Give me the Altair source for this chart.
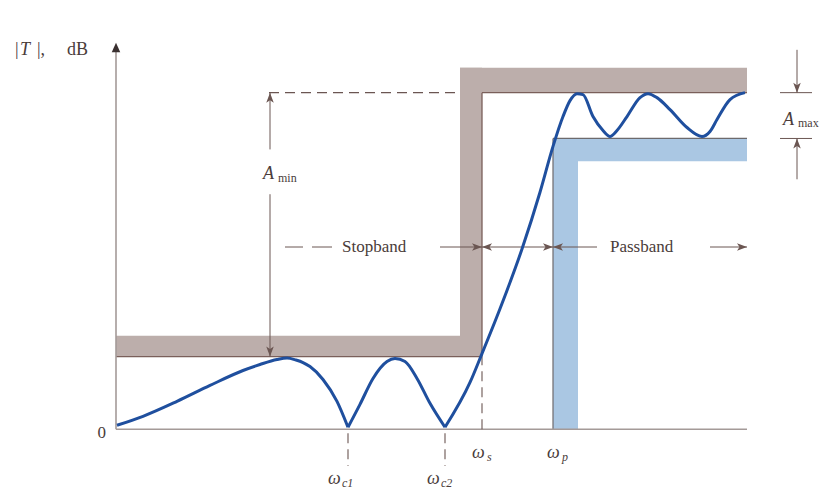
import altair as alt
import pandas as pd

# ---- response curve (omega in plot units, gain in dB units) ----
# three pieces, split at the transmission zeros so the notches stay sharp
omega = [0.1, 2.7, 6.1, 9.4, 12.7, 14.4, 16.1, 17.1, 18.0, 18.7, 19.4, 20.7, 22.1, 23.2,
         23.2, 24.4, 25.7, 27.1, 27.9, 28.9, 30.1, 31.4, 32.9,
         32.9, 35.4, 36.6, 38.4, 40.6, 42.4, 43.7, 44.7, 45.4, 46.1, 46.7, 47.7, 48.7,
         49.4, 50.1, 51.1, 52.4, 53.2, 54.1, 55.4, 57.1, 58.6, 59.4, 60.1, 61.4, 62.9]
gain_db = [0.4, 1.3, 2.8, 4.4, 5.9, 6.5, 7.0, 7.15, 6.95, 6.7, 6.3, 5.0, 2.8, 0.2,
           0.2, 2.5, 5.1, 6.8, 7.1, 6.8, 5.1, 2.6, 0.2,
           0.2, 4.7, 7.6, 12.1, 18.1, 23.8, 28.4, 31.4, 33.0, 33.7, 33.6, 31.4, 30.0,
           29.4, 30.0, 31.4, 33.3, 33.7, 33.3, 32.1, 30.3, 29.4, 29.9, 31.1, 33.1, 33.8]
piece = [1] * 14 + [2] * 9 + [3] * 26

# ---- specification values ----
stop_edge = 36.6     # omega_s
pass_edge = 43.7     # omega_p
omega_c1 = 23.2
omega_c2 = 32.9
omega_end = 63.1
stop_level = 7.3     # stopband ceiling
pass_max = 33.8
pass_min = 29.2
row = 18.3           # level of the Stopband / Passband captions

FONT = "Liberation Serif, Times New Roman, DejaVu Serif, serif"
TXT = "#4a3c3a"
ANN = "#6b5652"

X = alt.Scale(domain=[-10.8, 71.0], nice=False, zero=False)
Y = alt.Scale(domain=[-5.8, 42.3], nice=False, zero=False)


def seg_chart(rows, color, width, dash=None):
    df = pd.DataFrame(rows, columns=["x", "x2", "y", "y2"])
    kw = dict(color=color, strokeWidth=width)
    if dash:
        kw["strokeDash"] = dash
    return alt.Chart(df).mark_rule(**kw).encode(
        x=alt.X("x:Q", scale=X, axis=None), x2="x2:Q",
        y=alt.Y("y:Q", scale=Y, axis=None), y2="y2:Q")


# shaded specification bands
bands = pd.DataFrame([
    dict(x=0, x2=stop_edge, y=stop_level, y2=stop_level + 2.1, kind="stop"),
    dict(x=stop_edge - 2.2, x2=stop_edge, y=stop_level, y2=pass_max + 2.5, kind="stop"),
    dict(x=stop_edge - 2.2, x2=omega_end, y=pass_max, y2=pass_max + 2.5, kind="stop"),
    dict(x=pass_edge, x2=omega_end, y=pass_min - 2.3, y2=pass_min, kind="pass"),
    dict(x=pass_edge, x2=pass_edge + 2.5, y=0, y2=pass_min, kind="pass"),
])
band_layer = alt.Chart(bands).mark_rect(strokeWidth=0).encode(
    x=alt.X("x:Q", scale=X, axis=None), x2="x2:Q",
    y=alt.Y("y:Q", scale=Y, axis=None), y2="y2:Q",
    color=alt.Color("kind:N", scale=alt.Scale(domain=["stop", "pass"],
                                              range=["#bcaeab", "#aac7e3"]), legend=None))

stop_edges = seg_chart([(0, stop_edge, stop_level, stop_level),
                        (stop_edge, stop_edge, stop_level, pass_max),
                        (stop_edge, omega_end, pass_max, pass_max)], "#7a5f5a", 1.3)
pass_edges = seg_chart([(pass_edge, omega_end, pass_min, pass_min),
                        (pass_edge, pass_edge, 0, pass_min)], "#6d6a6c", 1.2)

axes = seg_chart([(0, 0, 0, 38.2), (0, omega_end, 0, 0)], "#a49a98", 1.6)

dashed = seg_chart([(15.3, stop_edge - 2.2, pass_max, pass_max),
                    (stop_edge, stop_edge, 0, stop_level),
                    (omega_c1, omega_c1, -0.4, -3.7),
                    (omega_c2, omega_c2, -0.4, -3.7)], ANN, 1.1, [10, 6])

solid = seg_chart([(15.4, 15.4, 28.1, pass_max), (15.4, 15.4, stop_level, 23.6),
                   (68.1, 68.1, pass_max, 38.1), (66.4, 69.6, pass_max, pass_max),
                   (66.4, 69.6, pass_min, pass_min), (68.1, 68.1, 25.1, pass_min),
                   (16.9, 18.7, row, row), (19.6, 21.6, row, row),
                   (32.4, stop_edge, row, row), (stop_edge, pass_edge, row, row),
                   (pass_edge, 48.1, row, row), (59.4, omega_end, row, row)], ANN, 1.0)

heads = pd.DataFrame([
    dict(x=15.4, y=pass_max, a=270), dict(x=15.4, y=stop_level, a=90),
    dict(x=68.1, y=pass_max, a=90), dict(x=68.1, y=pass_min, a=270),
    dict(x=stop_edge, y=row, a=0), dict(x=stop_edge, y=row, a=180),
    dict(x=pass_edge, y=row, a=0), dict(x=pass_edge, y=row, a=180),
    dict(x=omega_end, y=row, a=0),
])
head_layer = alt.Chart(heads).mark_point(
    shape="M0,0L-2,-0.75L-1.5,0L-2,0.75Z", filled=True, size=100, color=ANN, opacity=1
).encode(x=alt.X("x:Q", scale=X, axis=None), y=alt.Y("y:Q", scale=Y, axis=None),
         angle=alt.Angle("a:Q", scale=None))

axis_head = alt.Chart(pd.DataFrame([dict(x=0, y=38.8)])).mark_point(
    shape="M0,0L-2,-0.9L-2,0.9Z", filled=True, size=90, color="#3a3030", opacity=1, angle=270
).encode(x=alt.X("x:Q", scale=X, axis=None), y=alt.Y("y:Q", scale=Y, axis=None))

curve = alt.Chart(pd.DataFrame({"w": omega, "g": gain_db, "p": piece})).mark_line(
    color="#1f4f9e", strokeWidth=3, interpolate="monotone"
).encode(x=alt.X("w:Q", scale=X, axis=None), y=alt.Y("g:Q", scale=Y, axis=None),
         detail="p:N", order="w:Q")


def text_chart(rows, size, italic=False, align="left", baseline="alphabetic"):
    df = pd.DataFrame(rows, columns=["x", "y", "t"])
    kw = dict(font=FONT, fontSize=size, color=TXT, align=align, baseline=baseline)
    if italic:
        kw["fontStyle"] = "italic"
    return alt.Chart(df).mark_text(**kw).encode(
        x=alt.X("x:Q", scale=X, axis=None), y=alt.Y("y:Q", scale=Y, axis=None), text="t:N")


labels_normal = text_chart([(-10.1, 37.6, "|"), (-7.9, 37.6, "|,"), (-4.9, 37.6, "dB")], 18)
label_T = text_chart([(-9.6, 37.6, "T")], 18, italic=True)
label_zero = text_chart([(-1.0, -0.9, "0")], 17, align="right")
band_words = text_chart([(22.6, row, "Stopband"), (49.4, row, "Passband")], 17,
                        baseline="middle")
big_italic = text_chart([(14.7, 25.1, "A"), (66.7, 30.6, "A"),
                         (35.6, -2.9, "ω"), (43.1, -2.9, "ω"),
                         (21.2, -5.5, "ω"), (31.1, -5.5, "ω")], 18, italic=True)
subs_normal = text_chart([(16.2, 24.8, "min"), (68.2, 30.4, "max")], 12)
subs_italic = text_chart([(37.1, -3.2, "s"), (44.6, -3.2, "p"),
                          (22.6, -5.8, "c1"), (32.5, -5.8, "c2")], 12, italic=True)

chart = alt.layer(
    band_layer, stop_edges, pass_edges, axes, dashed, solid, head_layer, axis_head,
    curve, labels_normal, label_T, label_zero, band_words, big_italic, subs_normal,
    subs_italic
).properties(
    width=818, height=481, padding=0,
    autosize=alt.AutoSizeParams(type="fit", contains="padding"),
    background="white"
).configure_view(stroke=None)

chart.save("out.html", embed_options={"renderer": "svg", "actions": False})
